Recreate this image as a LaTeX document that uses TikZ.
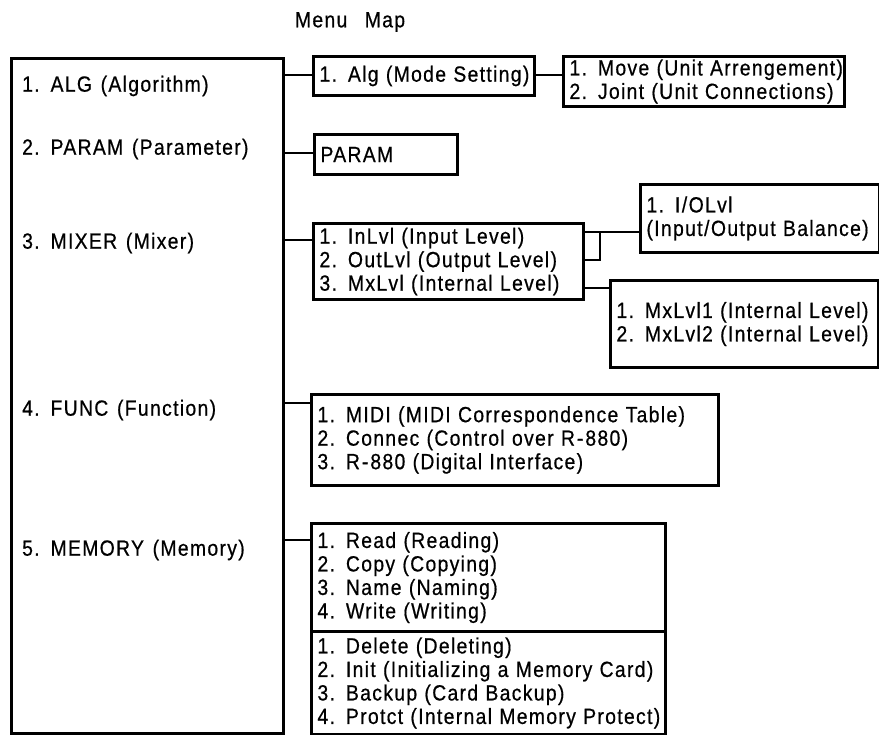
\documentclass[tikz,border=0pt]{standalone}
\usepackage{fontspec}
\setmainfont{Liberation Sans}[FakeStretch=0.88,LetterSpace=6,WordSpace=1.3,FakeBold=0.6]
\newcommand\txt{\fontsize{22}{23.5}\selectfont}
\newcommand\slsh{\kern1.5pt/\kern1.5pt}
\newcommand\hy{\kern2pt-\kern2pt}
\begin{document}
\begin{tikzpicture}[x=1pt,y=-1pt,
  box/.style={draw, line width=3pt, anchor=north west, inner xsep=6pt, inner ysep=0pt, align=left, font=\txt},
  link/.style={line width=1.8pt},
  lbl/.style={anchor=west, inner sep=0pt, font=\txt}]
\useasboundingbox (0,0) rectangle (879,735);
\node[font=\txt] (title) at (350,22) {Menu\ \ Map};
% main box
\node[draw, line width=3pt, anchor=north west, minimum width=272pt, minimum height=675pt, inner sep=0pt] (big) at (10,57) {};
\node[lbl] (l1) at (22,86) {1. ALG (Algorithm)};
\node[lbl] (l2) at (22,149) {2. PARAM (Parameter)};
\node[lbl] (l3) at (22,243) {3. MIXER (Mixer)};
\node[lbl] (l4) at (22,410) {4. FUNC (Function)};
\node[lbl] (l5) at (22,550) {5. MEMORY (Memory)};
% child boxes
\node[box, minimum width=221pt, minimum height=39pt, text width=209pt] (alg) at (312,55) {\mbox{1. Alg (Mode Setting)}};
\node[box, minimum width=281pt, minimum height=50pt, text width=269pt] (move) at (562,55) {\mbox{1. Move (Unit Arrengement)}\\\mbox{2. Joint (Unit Connections)}};
\node[box, minimum width=143pt, minimum height=40pt, text width=131pt] (param) at (313,133) {PARAM};
\node[box, minimum width=239pt, minimum height=68pt, text width=227pt] (io) at (639,183) {\mbox{1. I\slsh OLvl}\\\mbox{(Input\slsh Output Balance)}};
\node[box, minimum width=270pt, minimum height=76pt, text width=258pt] (mix) at (312,222) {\mbox{1. InLvl (Input Level)}\\\mbox{2. OutLvl (Output Level)}\\\mbox{3. MxLvl (Internal Level)}};
\node[box, minimum width=268pt, minimum height=87pt, text width=256pt] (mx) at (609,279) {\mbox{1. MxLvl1 (Internal Level)}\\\mbox{2. MxLvl2 (Internal Level)}};
\node[box, minimum width=407pt, minimum height=91pt, text width=395pt] (func) at (310,393) {\mbox{1. MIDI (MIDI Correspondence Table)}\\\mbox{2. Connec (Control over R\hy 880)}\\\mbox{3. R\hy 880 (Digital Interface)}};
\node[box, minimum width=354pt, minimum height=108pt, text width=342pt] (mem1) at (310,522) {\mbox{1. Read (Reading)}\\\mbox{2. Copy (Copying)}\\\mbox{3. Name (Naming)}\\\mbox{4. Write (Writing)}};
\node[box, minimum width=354pt, minimum height=103pt, text width=342pt] (mem2) at (310,630) {\mbox{1. Delete (Deleting)}\\\mbox{2. Init (Initializing a Memory Card)}\\\mbox{3. Backup (Card Backup)}\\\mbox{4. Protct (Internal Memory Protect)}};
% connector levels
\coordinate (y1) at (0,75);
\coordinate (y2) at (0,153);
\coordinate (y3) at (0,240);
\coordinate (y4) at (0,403);
\coordinate (y5) at (0,540);
\coordinate (ya) at (0,232);
\coordinate (yb) at (0,260);
\coordinate (yc) at (0,288);
\coordinate (b1) at (600,232);
\draw[link] (big.east |- y1) -- (alg.west |- y1);
\draw[link] (alg.east |- y1) -- (move.west |- y1);
\draw[link] (big.east |- y2) -- (param.west |- y2);
\draw[link] (big.east |- y3) -- (mix.west |- y3);
\draw[link] (big.east |- y4) -- (func.west |- y4);
\draw[link] (big.east |- y5) -- (mem1.west |- y5);
\draw[link] (mix.east |- ya) -- (io.west |- ya);
\draw[link] (mix.east |- yb) -| (b1);
\draw[link] (mix.east |- yc) -- (mx.west |- yc);
\end{tikzpicture}
\end{document}
